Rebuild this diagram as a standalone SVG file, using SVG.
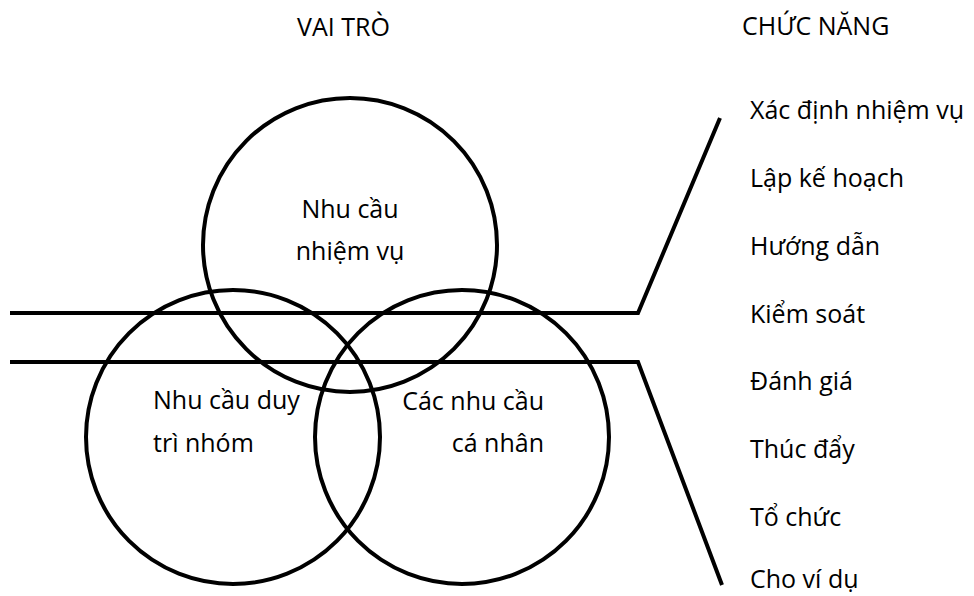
<svg xmlns="http://www.w3.org/2000/svg" width="974" height="596" viewBox="0 0 974 596">
<style>
.t{font-family:"Open Sans","Noto Sans","Liberation Sans",sans-serif;font-size:25px;fill:#000}
.c{fill:none;stroke:#000;stroke-width:4}
.l{fill:none;stroke:#000;stroke-width:4;stroke-linejoin:miter}
</style>
<rect width="974" height="596" fill="#fff"/>
<g id="headers">
<text class="t" x="297" y="36">VAI TRÒ</text>
<text class="t" x="742" y="35">CHỨC NĂNG</text>
</g>
<g id="connectors">
<polyline class="l" points="10,313 638,313 720,118"/>
<polyline class="l" points="10,362 638,362 722,585"/>
</g>
<g id="node-task">
<circle class="c" cx="350" cy="245" r="147"/>
<text class="t" x="350" y="218" text-anchor="middle">Nhu cầu</text>
<text class="t" x="350" y="260" text-anchor="middle">nhiệm vụ</text>
</g>
<g id="node-group">
<circle class="c" cx="233" cy="437" r="147"/>
<text class="t" x="153" y="409">Nhu cầu duy</text>
<text class="t" x="153" y="452">trì nhóm</text>
</g>
<g id="node-individual">
<circle class="c" cx="462" cy="437" r="147"/>
<text class="t" x="544" y="410" text-anchor="end">Các nhu cầu</text>
<text class="t" x="544" y="452" text-anchor="end">cá nhân</text>
</g>
<g id="functions">
<text class="t" x="750" y="119">Xác định nhiệm vụ</text>
<text class="t" x="750" y="187">Lập kế hoạch</text>
<text class="t" x="750" y="255">Hướng dẫn</text>
<text class="t" x="750" y="323">Kiểm soát</text>
<text class="t" x="750" y="390">Đánh giá</text>
<text class="t" x="750" y="458">Thúc đẩy</text>
<text class="t" x="750" y="526">Tổ chức</text>
<text class="t" x="750" y="588">Cho ví dụ</text>
</g>
</svg>
